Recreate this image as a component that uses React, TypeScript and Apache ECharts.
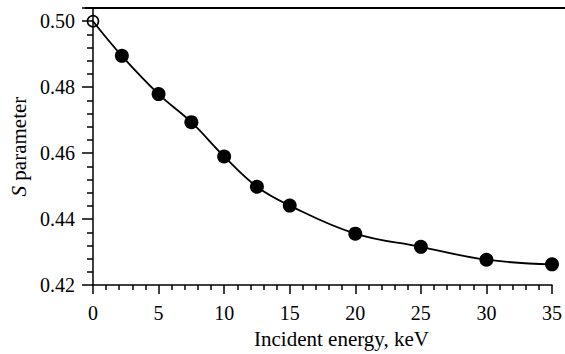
import React, { useEffect, useRef } from "react";
import * as echarts from "echarts";

const energies = [0, 2.2, 5, 7.5, 10, 12.5, 15, 20, 25, 30, 35];
const sValues = [0.5, 0.4895, 0.4779, 0.4694, 0.459, 0.4498, 0.4441, 0.4356, 0.4316, 0.4277, 0.4263];
const xTicks = [0, 5, 10, 15, 20, 25, 30, 35];
const yTicks = [0.42, 0.44, 0.46, 0.48, 0.5];

const FONT = "'Liberation Serif', 'Times New Roman', Times, serif";

export default function App() {
  const ref = useRef<HTMLDivElement>(null);
  useEffect(() => {
    if (!ref.current) return;
    const chart = echarts.init(ref.current, undefined, { renderer: "svg" });
    const data = energies.map((e, i) =>
      i === 0
        ? {
            value: [e, sValues[i]],
            symbolSize: 11,
            itemStyle: { color: "rgba(0,0,0,0)", borderColor: "#000", borderWidth: 1.6 },
          }
        : { value: [e, sValues[i]] }
    );
    const lbl = { fontFamily: FONT, fontSize: 20, color: "#000" };
    chart.setOption({
      animation: false,
      backgroundColor: "#fff",
      textStyle: { fontFamily: FONT },
      grid: { left: 91, right: 10, top: 8, bottom: 66, containLabel: false },
      xAxis: {
        type: "value",
        min: xTicks[0],
        max: xTicks[xTicks.length - 1],
        interval: 5,
        name: "Incident energy, keV",
        nameLocation: "middle",
        nameGap: 41,
        nameTextStyle: { fontFamily: FONT, fontSize: 21, color: "#000", padding: [0, 0, 0, 38] },
        axisLine: { onZero: false, lineStyle: { color: "#000", width: 1.5 } },
        axisTick: { show: true, inside: false, length: 9, lineStyle: { color: "#000", width: 1.5 } },
        minorTick: { show: true, splitNumber: 5, length: 5, lineStyle: { color: "#000", width: 1.5 } },
        axisLabel: { ...lbl, margin: 18 },
        splitLine: { show: false },
      },
      yAxis: {
        type: "value",
        min: yTicks[0],
        max: 0.504,
        interval: 0.02,
        name: "{i|S} {n|parameter}",
        nameLocation: "middle",
        nameGap: 64,
        nameRotate: 90,
        nameTextStyle: {
          fontFamily: FONT,
          fontSize: 21,
          color: "#000",
          rich: {
            i: { fontFamily: FONT, fontSize: 21, fontStyle: "italic", color: "#000" },
            n: { fontFamily: FONT, fontSize: 21, color: "#000" },
          },
        },
        axisLine: { onZero: false, lineStyle: { color: "#000", width: 1.5 } },
        axisTick: { show: true, inside: false, length: 11, lineStyle: { color: "#000", width: 1.5 } },
        minorTick: { show: true, splitNumber: 5, length: 6, lineStyle: { color: "#000", width: 1.5 } },
        axisLabel: {
          ...lbl,
          margin: 18,
          formatter: (v: number) => (yTicks.some((t) => Math.abs(t - v) < 1e-6) ? v.toFixed(2) : ""),
        },
        splitLine: { show: false },
      },
      graphic: [
        {
          type: "line",
          shape: { x1: 85, y1: 8, x2: 565, y2: 8 },
          style: { stroke: "#000", lineWidth: 1.8 },
          z: 10,
        },
      ],
      series: [
        {
          type: "line",
          data,
          smooth: 0.4,
          clip: false,
          symbol: "circle",
          symbolSize: 14,
          itemStyle: { color: "#000" },
          lineStyle: { color: "#000", width: 1.8 },
        },
      ],
    });
    return () => chart.dispose();
  }, []);
  return <div ref={ref} style={{ width: 565, height: 354, position: "absolute", left: 0, top: 0 }} />;
}
